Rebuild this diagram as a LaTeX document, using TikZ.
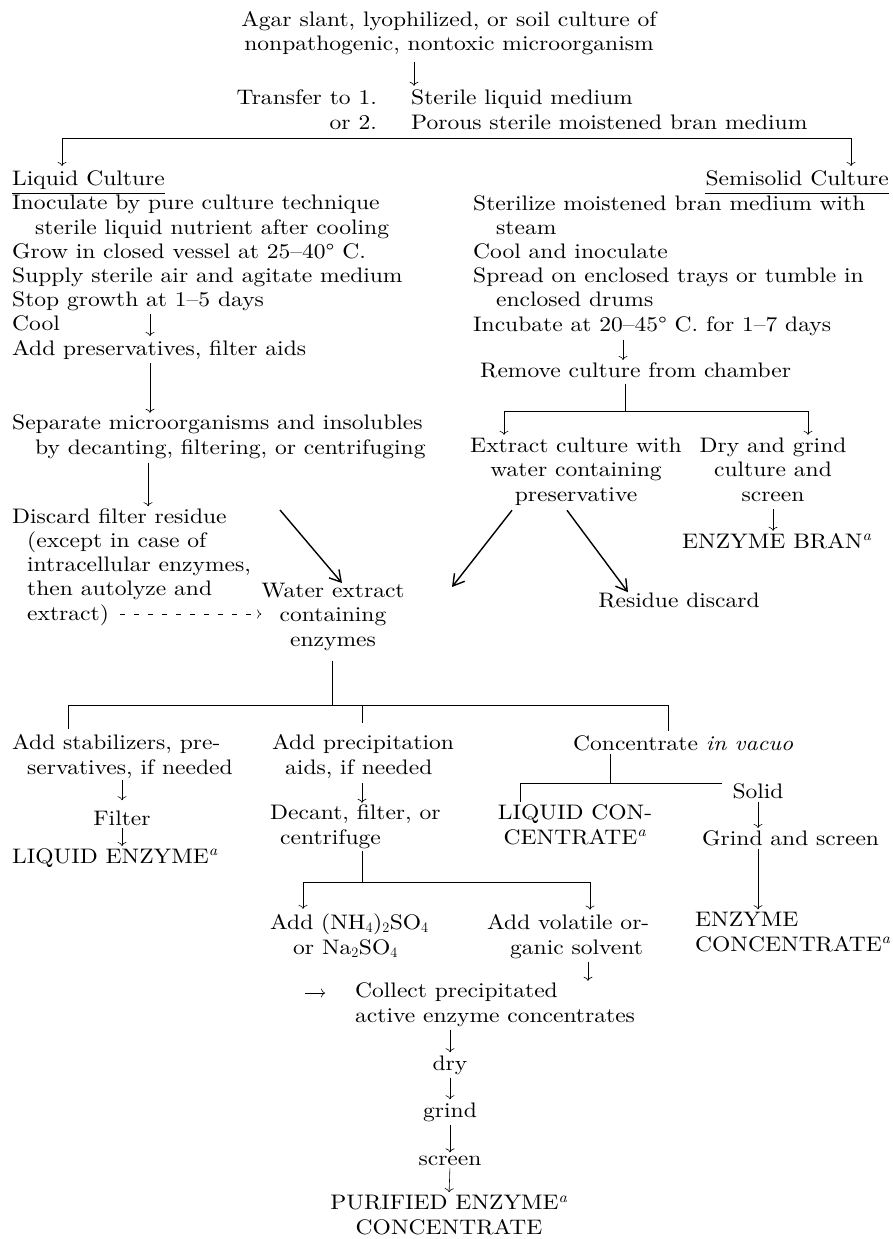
\documentclass[tikz,border=0pt]{standalone}
\usepackage{fontspec}
\setmainfont{lmroman10-regular.otf}[ItalicFont=lmroman10-italic.otf,FakeStretch=1.12]
\usetikzlibrary{arrows.meta}

\newcommand{\indt}[1]{\hspace*{#1pt}}
\newcommand{\fnmark}{\textsuperscript{\itshape a}}

\tikzset{
  lbl/.style={inner sep=0pt, align=left, anchor=base west, font=\fontsize{21}{24.2}\selectfont},
  clbl/.style={lbl, align=center, anchor=base},
  dn/.style={line width=0.6pt, -{To[length=4pt,width=9pt]}},
  heavy/.style={line width=1.4pt, -{Straight Barb[length=11pt,width=13pt]}},
  rule/.style={line width=0.6pt},
  faint/.style={line width=0.4pt},
}

\begin{document}
\begin{tikzpicture}[x=1pt, y=-1pt]
\useasboundingbox (0,0) rectangle (893,1239);

% source culture (multi-line nodes sit on their last baseline)
\node[clbl] (agar) at (449,51) {Agar slant, lyophilized, or soil culture of\\nonpathogenic, nontoxic microorganism};
\node[lbl, align=right, anchor=base east] (transfer) at (377,129) {Transfer to 1.\\or 2.};
\node[lbl] (medium) at (411,129) {Sterile liquid medium\\Porous sterile moistened bran medium};

% liquid culture column
\node[lbl] (liquid) at (12,185) {Liquid Culture};
\node[lbl] (grow) at (12,355) {Inoculate by pure culture technique\\\indt{23}sterile liquid nutrient after cooling\\Grow in closed vessel at 25--40° C.\\Supply sterile air and agitate medium\\Stop growth at 1--5 days\\Cool\\Add preservatives, filter aids};
\node[lbl] (separate) at (12,454) {Separate microorganisms and insolubles\\\indt{23}by decanting, filtering, or centrifuging};
\node[lbl] (discard) at (12,620) {Discard filter residue\\\indt{15}(except in case of\\\indt{15}intracellular enzymes,\\\indt{15}then autolyze and\\\indt{15}extract)};
\node[clbl] (water) at (333,646) {Water extract\\containing\\enzymes};

% semisolid culture column
\node[lbl, anchor=base east] (semi) at (889,185) {Semisolid Culture};
\node[lbl] (sterilize) at (473,331) {Sterilize moistened bran medium with\\\indt{23}steam\\Cool and inoculate\\Spread on enclosed trays or tumble in\\\indt{23}enclosed drums\\Incubate at 20--45° C. for 1--7 days};
\node[lbl] (remove) at (480,377) {Remove culture from chamber};
\node[clbl] (extract) at (576,501) {Extract culture with\\water containing\\preservative};
\node[clbl] (drygrind) at (773,501) {Dry and grind\\culture and\\screen};
\node[lbl] (bran) at (682,548) {ENZYME BRAN\fnmark};
\node[clbl] (residue) at (679,607) {Residue discard};

% finishing steps
\node[lbl] (stab) at (12,774) {Add stabilizers, pre-\\\indt{15}servatives, if needed};
\node[clbl] (filter) at (122,825) {Filter};
\node[lbl] (liqenz) at (12,863) {LIQUID ENZYME\fnmark};
\node[lbl] (precip) at (272,774) {Add precipitation\\\indt{13}aids, if needed};
\node[lbl] (decant) at (270,844) {Decant, filter, or\\\indt{10}centrifuge};
\node[lbl] (ammon) at (270,954) {Add (NH$_4$)$_2$SO$_4$\\\indt{23}or Na$_2$SO$_4$};
\node[lbl] (volat) at (487,954) {Add volatile or-\\\indt{23}ganic solvent};
\node[lbl] (collect) at (355,1022) {Collect precipitated\\active enzyme concentrates};
\node[clbl] (drystep) at (450,1070) {dry};
\node[clbl] (grind) at (450,1117) {grind};
\node[clbl] (screen) at (450,1165) {screen};
\node[clbl] (purified) at (449,1234) {PURIFIED ENZYME\fnmark\\CONCENTRATE};
\node[lbl] (conc) at (573,750) {Concentrate \textit{in vacuo}};
\node[clbl] (liqconc) at (575,844) {LIQUID CON-\\CENTRATE\fnmark};
\node[clbl] (solid) at (758,798) {Solid};
\node[lbl] (grindsc) at (702,845) {Grind and screen};
\node[lbl] (enzconc) at (695,951) {ENZYME\\CONCENTRATE\fnmark};

% helper points
\coordinate (ax) at (414,0);
\coordinate (brL) at (62,138);
\coordinate (brR) at (851,138);
\coordinate (coolx) at (150,0);
\coordinate (coolst) at (150,314);
\coordinate (sepx) at (148,0);
\coordinate (dashst) at (120,614);
\coordinate (sepout) at (280,510);
\coordinate (wtip) at (452,587);
\coordinate (rmx) at (623,0);
\coordinate (rmsplit) at (625,411);
\coordinate (rmL) at (504,411);
\coordinate (rmR) at (808,411);
\coordinate (wsplit) at (332,705);
\coordinate (bL) at (68,705);
\coordinate (bM) at (362,705);
\coordinate (bR) at (668,705);
\coordinate (pSplit) at (362,882);
\coordinate (pL) at (303,882);
\coordinate (pR) at (590,882);
\coordinate (vx) at (588,0);
\coordinate (ammonout) at (305,993);
\coordinate (cSplit) at (610,783);
\coordinate (cL) at (520,783);
\coordinate (cR) at (722,783);

% connectors
\draw[dn, shorten <=6pt, shorten >=4pt] (agar.south -| ax) -- (medium.north -| ax);
\draw[rule] (brL) -- (brR);
\draw[dn, shorten >=4pt] (brL) -- (brL |- liquid.north);
\draw[dn, shorten >=4pt] (brR) -- (brR |- semi.north);
\draw[rule] ([yshift=-8pt]liquid.base west) -- ([yshift=-8pt]liquid.base east);
\draw[rule] ([yshift=-8pt]semi.base west) -- ([yshift=-8pt]semi.base east);

\draw[dn] (coolst) -- ++(0,22);
\draw[dn, shorten <=4pt, shorten >=2pt] (grow.south -| coolx) -- (separate.north -| coolx);
\draw[dn, shorten <=4pt, shorten >=2pt] (separate.south -| sepx) -- (discard.north -| sepx);
\draw[dn, dash pattern=on 5pt off 9pt] (dashst) -- (dashst -| water.west);
\draw[heavy] (sepout) -- ([xshift=9pt]water.north);

\draw[dn, shorten <=4pt, shorten >=2pt] (sterilize.south -| rmx) -- (remove.north -| rmx);
\draw[faint, shorten <=6pt] (remove.south -| rmsplit) -- (rmsplit);
\draw[rule] (rmL) -- (rmR);
\draw[dn, shorten >=3pt] (rmL) -- (rmL |- extract.north);
\draw[dn, shorten >=3pt] (rmR) -- (rmR |- drygrind.north);
\draw[dn, shorten <=8pt, shorten >=2pt] (drygrind.south) -- (drygrind.south |- bran.north);
\draw[heavy] ([xshift=-64pt, yshift=-5pt]extract.south) -- (wtip);
\draw[heavy] ([xshift=-9pt, yshift=-5pt]extract.south) -- ([xshift=-51pt]residue.north);

\draw[rule, shorten <=10pt] (water.south -| wsplit) -- (wsplit);
\draw[rule] (bL) -- (bR);
\draw[rule, shorten >=6pt] (bL) -- (bL |- stab.north);
\draw[faint, shorten >=12pt] (bM) -- (bM |- precip.north);
\draw[rule, shorten >=4pt] (bR) -- (bR |- conc.north);

\draw[dn, shorten <=2pt, shorten >=10pt] (stab.south -| filter) -- (filter.north);
\draw[dn, shorten <=3pt, shorten >=2pt] (filter.south) -- (filter.south |- liqenz.north);

\draw[dn, shorten <=5pt, shorten >=2pt] (precip.south -| bM) -- (decant.north -| bM);
\draw[rule, shorten <=2pt] (decant.south -| pSplit) -- (pSplit);
\draw[rule] (pL) -- (pR);
\draw[dn, shorten >=5pt] (pL) -- (pL |- ammon.north);
\draw[dn, shorten >=5pt] (pR) -- (pR |- volat.north);
\draw[dn, shorten <=3pt, shorten >=2pt] (volat.south -| vx) -- (collect.north -| vx);
\draw[dn] (ammonout) -- ([xshift=-30pt]collect.west |- ammonout);

\foreach \a/\b in {collect/drystep, drystep/grind, grind/screen, screen/purified}
  \draw[dn, shorten <=3pt, shorten >=3pt] (\a.south -| drystep) -- (\b.north);

\draw[faint, shorten <=3pt] (conc.south -| cSplit) -- (cSplit);
\draw[rule] (cL) -- (cR);
\draw[rule, shorten >=3pt] (cL) -- (cL |- liqconc.north);
\draw[dn, shorten <=3pt, shorten >=2pt] (solid.south) -- (solid.south |- grindsc.north);
\draw[dn, shorten <=3pt, shorten >=3pt] (grindsc.south -| solid) -- (enzconc.north -| solid);
\end{tikzpicture}
\end{document}
